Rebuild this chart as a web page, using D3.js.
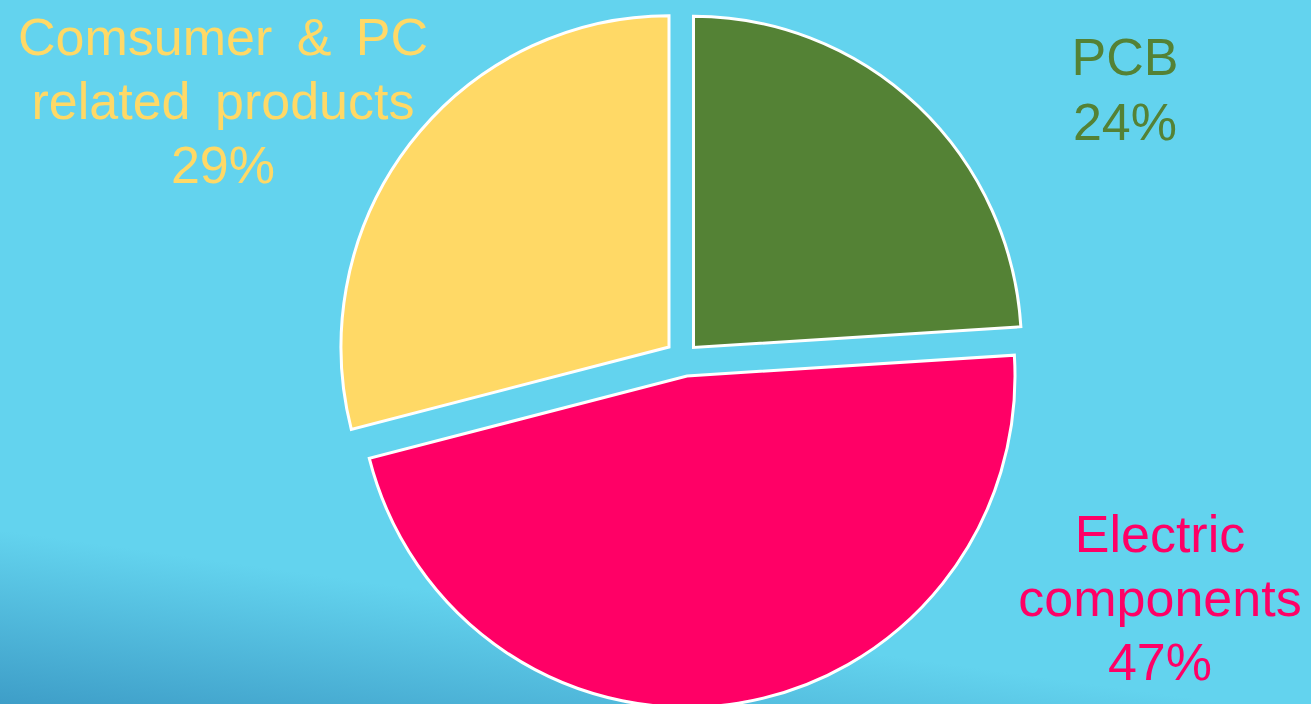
<!DOCTYPE html>
<html>
<head>
<meta charset="utf-8">
<script src="https://cdn.jsdelivr.net/npm/d3@7"></script>
<style>
  html, body { margin: 0; padding: 0; overflow: hidden; }
  svg { display: block; }
  text { font-family: "Liberation Sans", Arial, sans-serif; }
</style>
</head>
<body>
<svg id="chart" width="1311" height="704"></svg>
<script>
// ---- data ----
const categories = ["PCB", "Electric components", "Comsumer & PC related products"];
const values = [24, 47, 29];
const percentLabels = ["24%", "47%", "29%"];
const labelLines = [
  ["PCB"],
  ["Electric", "components"],
  ["Comsumer & PC", "related products"]
];
const colors = ["#548235", "#ff0066", "#ffd966"];

// ---- layout ----
const W = 1311, H = 704;
const cx = 681, cy = 358, R = 328, sy = 1.01;
const explodeOffsets = [[12.5, -10.5], [6, 18], [-12, -11]];
const svg = d3.select("#chart");

const defs = svg.append("defs");
const grad = defs.append("linearGradient")
  .attr("id", "bg").attr("gradientUnits", "userSpaceOnUse")
  .attr("x1", 0).attr("y1", 530).attr("x2", -24).attr("y2", 700);
grad.append("stop").attr("offset", 0).attr("stop-color", "#63d3ee");
grad.append("stop").attr("offset", 1).attr("stop-color", "#3e9ec8");

svg.append("rect").attr("width", W).attr("height", H).attr("fill", "url(#bg)");

const pie = d3.pie().sort(null).value(d => d)
  .startAngle(0).endAngle(2 * Math.PI);
const arcs = pie(values);
const arc = d3.arc().innerRadius(0).outerRadius(R);

const g = svg.append("g").attr("transform", `translate(${cx},${cy})`);
g.selectAll("path").data(arcs).join("path")
  .attr("d", arc)
  .attr("fill", (d, i) => colors[i])
  .attr("stroke", "#ffffff")
  .attr("stroke-width", 3)
  .attr("vector-effect", "non-scaling-stroke")
  .attr("stroke-linejoin", "miter")
  .attr("transform", (d, i) =>
    `translate(${explodeOffsets[i][0]},${explodeOffsets[i][1]}) scale(1,${sy})`);

// ---- labels ----
const labelPos = [
  { x: 1125, y: 75, lh: 65, ws: 0 },
  { x: 1160, y: 552, lh: 64, ws: 0 },
  { x: 223, y: 55, lh: 64, ws: 10 }
];
categories.forEach((c, i) => {
  const p = labelPos[i];
  const t = svg.append("text")
    .attr("text-anchor", "middle")
    .attr("font-size", 52)
    .attr("fill", colors[i])
    .attr("word-spacing", p.ws);
  const lines = labelLines[i].concat([percentLabels[i]]);
  lines.forEach((ln, k) => {
    t.append("tspan").attr("x", p.x).attr("y", p.y + k * p.lh).text(ln);
  });
});
</script>
</body>
</html>
